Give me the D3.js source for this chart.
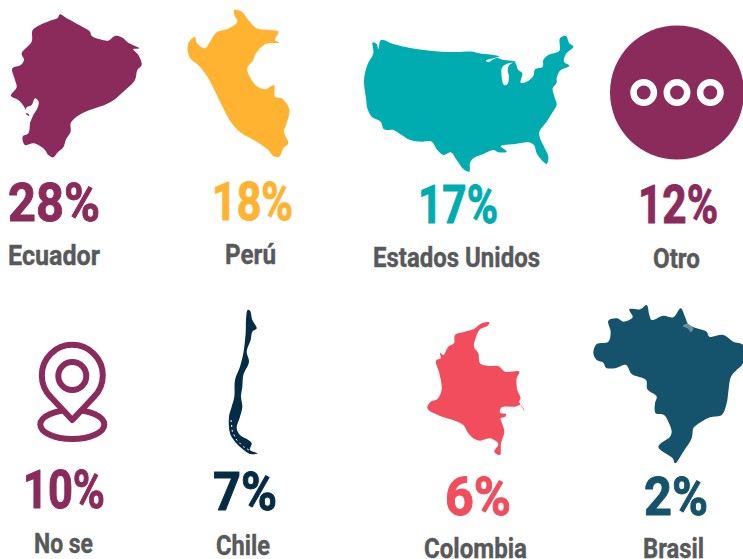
<!DOCTYPE html>
<html>
<head>
<meta charset="utf-8">
<script src="https://cdn.jsdelivr.net/npm/d3@7"></script>
<style>
  html, body { margin: 0; background: #fff; overflow: hidden; }
  text { font-family: "Roboto", sans-serif; font-weight: 700; text-anchor: middle; stroke-linejoin: round; }
</style>
</head>
<body>
<div class="infographic"></div>
<script>
// values
const categories = ["Ecuador", "Perú", "Estados Unidos", "Otro", "No se", "Chile", "Colombia", "Brasil"];
const percents = [28, 18, 17, 12, 10, 7, 6, 2];
const colors = ["#8b2b5c", "#ffb331", "#00acb0", "#8b2b5c", "#8b2b5c", "#052b45", "#f14d5d", "#14536b"];

// silhouettes, in 3x trace units
const ecuador = [[180,43],[200,55],[225,68],[255,85],[270,95],[275,108],[300,118],[325,122],[345,108],[365,112],[385,128],[418,145],[400,148],[415,165],[425,195],[412,210],[405,240],[385,262],[365,280],[345,298],[320,312],[285,325],[250,338],[228,352],[212,370],[212,395],[198,418],[190,442],[172,458],[160,472],[145,465],[135,450],[120,438],[100,430],[75,435],[68,410],[85,400],[90,370],[92,352],[78,342],[75,325],[55,300],[33,287],[50,262],[45,240],[37,205],[62,195],[72,180],[65,160],[95,125],[98,90],[120,75],[150,62],[172,55]];
const ecuadorGulf = [[105,295],[116,305],[112,325],[100,345],[90,365],[86,342],[75,338],[80,322],[95,315]];
const peru = [[703,30],[725,35],[745,60],[770,85],[810,90],[835,95],[825,120],[838,128],[805,130],[785,140],[765,165],[760,180],[742,205],[752,235],[770,258],[795,268],[822,255],[825,290],[845,295],[868,328],[860,370],[852,395],[865,430],[850,445],[838,470],[820,468],[805,450],[770,425],[725,400],[695,370],[680,345],[655,295],[625,235],[600,200],[568,170],[565,130],[585,110],[590,128],[615,145],[630,125],[650,97],[680,88],[712,65],[703,45]];
const usa = [[38,37],[50,42],[55,57],[63,30],[100,42],[150,54],[210,62],[280,66],[340,65],[350,68],[372,72],[395,74],[418,79],[378,92],[385,96],[410,84],[430,90],[455,92],[470,96],[445,100],[428,110],[424,125],[432,165],[442,163],[447,140],[443,122],[448,105],[465,98],[475,120],[487,130],[482,158],[500,155],[520,138],[525,118],[548,110],[550,90],[565,75],[598,62],[600,25],[618,18],[628,40],[640,50],[618,72],[612,95],[628,107],[600,122],[590,145],[590,158],[578,175],[585,205],[590,225],[582,240],[560,275],[538,305],[540,325],[552,350],[565,380],[560,402],[545,390],[530,370],[522,345],[505,337],[465,342],[422,348],[440,365],[415,367],[400,360],[370,372],[340,385],[330,400],[328,425],[310,417],[290,390],[272,367],[250,375],[232,360],[215,335],[185,335],[150,330],[125,315],[100,300],[72,298],[62,275],[35,260],[22,235],[18,205],[12,150],[22,105],[40,70]];
const chile = [[98,30],[105,32],[112,60],[125,85],[112,95],[107,120],[95,155],[102,185],[85,225],[82,260],[78,290],[82,320],[75,350],[65,385],[75,405],[100,420],[110,430],[105,450],[128,460],[105,462],[80,445],[60,425],[45,400],[42,350],[50,320],[58,290],[60,240],[75,200],[85,160],[92,100],[93,60]];
const chileFjord = [[48,360],[52,395],[65,420],[85,440],[105,452]];
const colombia = [[268,97],[262,108],[240,118],[225,150],[222,170],[235,190],[240,220],[265,228],[295,228],[315,245],[358,245],[350,265],[352,300],[362,325],[358,335],[375,365],[362,345],[345,350],[305,352],[300,368],[318,372],[315,380],[302,385],[308,405],[313,425],[303,460],[300,495],[283,485],[295,462],[270,445],[240,452],[225,448],[205,430],[190,405],[165,392],[120,378],[82,355],[92,335],[112,328],[125,298],[118,250],[108,212],[122,205],[120,188],[130,195],[145,170],[162,160],[165,135],[195,125],[220,118],[245,100]];
const brasil = [[170,15],[178,45],[185,60],[220,47],[250,52],[272,25],[285,50],[295,72],[320,85],[350,95],[358,110],[400,105],[430,125],[459,135],[459,190],[440,210],[423,230],[415,275],[410,310],[395,345],[360,352],[320,375],[310,385],[305,415],[280,455],[255,490],[248,475],[205,440],[240,410],[245,395],[235,365],[222,345],[197,340],[195,310],[200,290],[172,268],[168,240],[125,222],[108,195],[75,205],[48,203],[40,188],[20,180],[10,160],[20,132],[55,125],[62,95],[55,62],[82,55],[100,65],[128,52],[118,28],[150,28]];
const brasilDelta = [[278,78],[296,70],[310,86],[302,96],[294,86],[284,82]];

const width = 743, height = 559;

const svg = d3.select(".infographic").append("svg")
    .attr("width", width)
    .attr("height", height);

// layout per category
const percentX = d3.scaleOrdinal().domain(categories).range([54, 252.5, 458, 678, 64, 245, 478, 676]);
const percentW = d3.scaleOrdinal().domain(categories).range([92, 81, 80, 80, 82, 64, 66, 64]);
const percentY = d3.scaleOrdinal().domain(categories).range([221, 220, 223, 223, 508, 510, 515, 515]);
const nameX = d3.scaleOrdinal().domain(categories).range([54, 250.5, 456.5, 676.5, 63.5, 243, 475.5, 673.5]);
const nameW = d3.scaleOrdinal().domain(categories).range([92, 51, 167, 47, 59, 54, 103, 61]);
const nameY = d3.scaleOrdinal().domain(categories).range([265, 264, 267, 268, 553, 555, 558, 558]);
const color = d3.scaleOrdinal().domain(categories).range(colors);

const rows = categories.map((c, i) => ({name: c, pct: percents[i]}));

// trace units back to pixels
const sx = d3.scaleLinear().domain([0, 3]).range([0, 1]);
const sy = d3.scaleLinear().domain([0, 3]).range([0, 1]);
const outline = d3.line().x(d => sx(d[0])).y(d => sy(d[1])).curve(d3.curveCatmullRomClosed.alpha(0.5));

function shape(points, fill, ox, oy) {
  return svg.append("path")
      .attr("transform", "translate(" + ox + "," + oy + ")")
      .attr("d", outline(points))
      .attr("fill", fill);
}

shape(ecuador, color("Ecuador"), 0, 0);
shape(ecuadorGulf, "#fff", 0, 0);
shape(peru, color("Perú"), 0, 0);
shape(usa, color("Estados Unidos"), 360, 30);
shape(chile, color("Chile"), 215, 300);
svg.append("path")
    .attr("transform", "translate(215,300)")
    .attr("d", d3.line().x(d => sx(d[0])).y(d => sy(d[1]))(chileFjord))
    .attr("fill", "none")
    .attr("stroke", "#fff")
    .attr("stroke-dasharray", "2 3");
shape(colombia, color("Colombia"), 400, 290);
shape(brasil, color("Brasil"), 590, 300);
shape(brasilDelta, "#fff", 590, 300).attr("opacity", 0.35);

// Otro: disc with three rings
const otro = svg.append("g").attr("transform", "translate(677,92.5)");
otro.append("circle").attr("r", 67).attr("fill", color("Otro"));
otro.selectAll(".dot")
  .data([-33.3, 0, 33.3])
  .join("circle")
    .attr("class", "dot")
    .attr("cx", d => d)
    .attr("r", 10.2)
    .attr("fill", "none")
    .attr("stroke", "#fff")
    .attr("stroke-width", 6.5);

// No se: map pin standing on an ellipse
const pin = svg.append("g")
    .attr("transform", "translate(72.3,376)")
    .attr("fill", "none")
    .attr("stroke", color("No se"))
    .attr("stroke-width", 6)
    .attr("stroke-linejoin", "round");
pin.append("ellipse").attr("cy", 48.5).attr("rx", 32).attr("ry", 14.5);
pin.append("path")
    .attr("d", "M0,44 L-21.5,21 A30.5,30.5 0 1,1 21.5,21 Z")
    .attr("fill", "#fff");
pin.append("circle").attr("r", 14);

svg.selectAll(".pct")
  .data(rows)
  .join("text")
    .attr("class", "pct")
    .attr("x", d => percentX(d.name))
    .attr("y", d => percentY(d.name))
    .attr("font-size", 53)
    .attr("textLength", d => percentW(d.name))
    .attr("lengthAdjust", "spacingAndGlyphs")
    .attr("fill", d => color(d.name))
    .attr("stroke", d => color(d.name))
    .attr("stroke-width", 1)
    .text(d => d.pct + "%");

svg.selectAll(".name")
  .data(rows)
  .join("text")
    .attr("class", "name")
    .attr("x", d => nameX(d.name))
    .attr("y", d => nameY(d.name))
    .attr("font-size", 27)
    .attr("textLength", d => nameW(d.name))
    .attr("lengthAdjust", "spacingAndGlyphs")
    .attr("fill", "#58595b")
    .attr("stroke", "#58595b")
    .attr("stroke-width", 0.4)
    .text(d => d.name);
</script>
</body>
</html>
